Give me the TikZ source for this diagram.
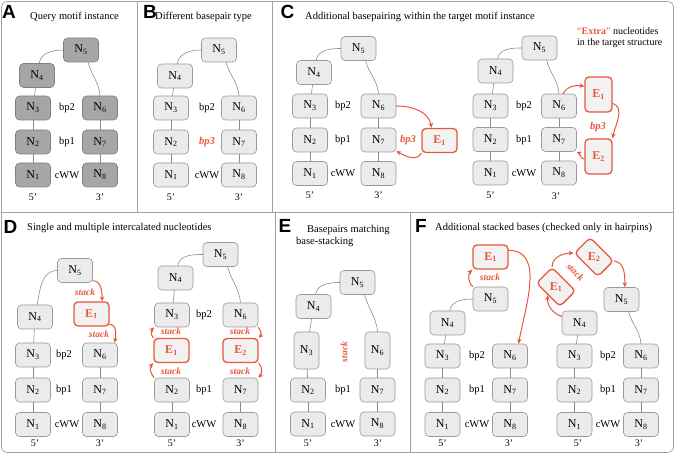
\documentclass[tikz,border=0pt]{standalone}
\usepackage{fontspec}
\setmainfont{Liberation Serif}
\newfontfamily\panelfont{Liberation Sans}
\usetikzlibrary{arrows.meta}

\definecolor{extrared}{RGB}{232,86,60}
\definecolor{framegray}{RGB}{160,160,160}

\tikzset{
  nt/.style={draw=black!40, fill=black!8, rounded corners=4pt, line width=0.6pt,
    minimum width=35pt, minimum height=24pt, inner sep=1pt,
    font=\fontsize{12}{12}\selectfont},
  ntq/.style={nt, draw=black!50, fill=black!35},
  nttall/.style={nt, minimum width=25pt, minimum height=37pt},
  ntx/.style={nt, draw=extrared, line width=1.3pt, fill=black!5, text=extrared,
    font=\fontsize{12}{12}\selectfont\bfseries},
  ntxtall/.style={ntx, minimum width=27pt, minimum height=35pt},
  ntxtilt/.style={ntx, rotate=-45, minimum width=33pt, minimum height=22pt},
  xlab/.style={inner sep=0pt, text=extrared, font=\fontsize{12}{12}\selectfont\bfseries},
  bond/.style={draw=black!45, line width=0.6pt},
  jump/.style={draw=extrared, line width=1pt, -{Stealth[length=5pt,width=4.5pt]}},
  pair/.style={inner sep=0pt, font=\fontsize{10.5}{10.5}\selectfont},
  newpair/.style={inner sep=0pt, text=extrared, font=\fontsize{10.5}{10.5}\selectfont\itshape\bfseries},
  stk/.style={inner sep=0pt, text=extrared, font=\fontsize{9.5}{9.5}\selectfont\itshape\bfseries},
  strand/.style={inner sep=0pt, font=\fontsize{10}{10}\selectfont},
  letter/.style={inner sep=0pt, font=\panelfont\fontsize{19}{19}\selectfont\bfseries},
  title/.style={inner sep=0pt, anchor=west, font=\fontsize{10.5}{12}\selectfont},
}

\begin{document}
\begin{tikzpicture}[x=1pt, y=1pt, line join=round, line cap=round]
\useasboundingbox (0,0) rectangle (675,-454);
% frame and panel rules
\draw[framegray, line width=0.7pt, rounded corners=6pt] (1.5,-1.5) rectangle (673.5,-452.5);
\draw[framegray, line width=0.7pt] (137,-1.5) -- (137,-212) (272,-1.5) -- (272,-212)
  (1.5,-212) -- (673.5,-212) (275,-212) -- (275,-452.5) (410,-212) -- (410,-452.5);

% panel letters and titles
\foreach \p/\x/\y in {A/9/11.5, B/150/12, C/287.5/11.5, D/10.5/226.5, E/285/225.5, F/421/225.5}
  \node[letter] (lab\p) at (\x,-\y) {\p};
\node[title] (titA) at (30,-17) {Query motif instance};
\node[title] (titB) at (155,-17) {Different basepair type};
\node[title] (titC) at (305,-17) {Additional basepairing within the target motif instance};
\node[title] (titD) at (27,-228) {Single and multiple intercalated nucleotides};
\node[title] (titE) at (307,-230) {Basepairs matching};
\node[title] (titEb) at (296,-242) {base-stacking};
\node[title] (titF) at (435,-228) {Additional stacked bases (checked only in hairpins)};

% A: query motif instance
\foreach \n/\x/\y in {1/33/175, 2/33/142, 3/33/108, 4/37/75.5, 5/81/50, 6/100/108, 7/100/142, 8/100/175}
  \node[ntq] (a\n) at (\x,-\y) {N\textsubscript{\n}};
\foreach \u/\v in {1/2, 2/3, 3/4, 6/7, 7/8}
  \draw[bond] (a\u) -- (a\v);
\draw[bond] (a4.80) to[out=80,in=180] (a5.west);
\draw[bond] (a5.-60) to[out=-75,in=95] (a6.north);
\foreach \bp/\y in {bp2/108, bp1/142, cWW/175}
  \node[pair] (a\bp) at (67,-\y) {\bp};
\node[strand] (a5end) at (33,-197) {5'};
\node[strand] (a3end) at (100,-197) {3'};

% B: different basepair type
\foreach \n/\x/\y in {1/171/175, 2/171/142, 3/171/108, 4/175/76, 5/219/50, 6/239/108, 7/239/142, 8/239/175}
  \node[nt] (b\n) at (\x,-\y) {N\textsubscript{\n}};
\foreach \u/\v in {1/2, 2/3, 3/4, 6/7, 7/8}
  \draw[bond] (b\u) -- (b\v);
\draw[bond] (b4.80) to[out=80,in=180] (b5.west);
\draw[bond] (b5.-60) to[out=-75,in=95] (b6.north);
\node[pair] (bbp2) at (207,-108) {bp2};
\node[newpair] (bbp3) at (207,-142) {bp3};
\node[pair] (bcWW) at (207,-175) {cWW};
\node[strand] (b5end) at (171,-197) {5'};
\node[strand] (b3end) at (239,-197) {3'};

% C left: one extra nucleotide
\foreach \n/\x/\y in {1/310/173.5, 2/310/140, 3/310/106, 4/314/72.5, 5/358.5/48.5, 6/378.5/106, 7/378.5/140, 8/378.5/173.5}
  \node[nt] (cl\n) at (\x,-\y) {N\textsubscript{\n}};
\node[ntx] (cle1) at (439.5,-140.5) {E\textsubscript{1}};
\foreach \u/\v in {1/2, 2/3, 3/4, 6/7, 7/8}
  \draw[bond] (cl\u) -- (cl\v);
\draw[bond] (cl4.80) to[out=80,in=180] (cl5.west);
\draw[bond] (cl5.-60) to[out=-75,in=95] (cl6.north);
\draw[jump] (cl6.east) to[out=0,in=100] (cle1.122);
\draw[jump] (cle1.215) to[out=-120,in=-30] (cl7.-32);
\foreach \bp/\y in {bp2/106, bp1/140, cWW/173.5}
  \node[pair] (cl\bp) at (343,-\y) {\bp};
\node[newpair] (clbp3) at (408,-140) {bp3};
\node[strand] (cl5end) at (310,-195) {5'};
\node[strand] (cl3end) at (378.5,-195) {3'};

% C right: two extra nucleotides
\foreach \n/\x/\y in {1/490.5/173, 2/490.5/139.5, 3/490.5/106, 4/495.5/71, 5/539.5/48, 6/559/106, 7/559/139.5, 8/559/173}
  \node[nt] (cr\n) at (\x,-\y) {N\textsubscript{\n}};
\node[ntxtall] (cre1) at (598.5,-94.5) {E\textsubscript{1}};
\node[ntxtall] (cre2) at (598.5,-156.5) {E\textsubscript{2}};
\foreach \u/\v in {1/2, 2/3, 3/4, 6/7, 7/8}
  \draw[bond] (cr\u) -- (cr\v);
\draw[bond] (cr4.80) to[out=80,in=180] (cr5.west);
\draw[bond] (cr5.-60) to[out=-75,in=95] (cr6.north);
\draw[jump] (cr6.72) to[out=60,in=170] (cre1.150);
\draw[jump] (cre1.-32) to[out=-20,in=80] (cre2.52);
\draw[jump] (cre2.190) to[out=185,in=-25] (cr7.-35);
\foreach \bp/\y in {bp2/106, bp1/139.5, cWW/173}
  \node[pair] (cr\bp) at (524,-\y) {\bp};
\node[newpair] (crbp3) at (598,-127) {bp3};
\node[strand] (cr5end) at (490.5,-195) {5'};
\node[strand] (cr3end) at (556,-196) {3'};
\node[title, align=left, font=\fontsize{10}{11}\selectfont] (extranote) at (577,-37.5)
  {{\color{extrared}“\textbf{Extra}”} nucleotides\\in the target structure};

% D left: single intercalated nucleotide
\foreach \n/\x/\y in {1/33/424.5, 2/33/390, 3/33/355, 4/35/317, 5/75/270.5, 6/100/355, 7/100/390, 8/100/424.5}
  \node[nt] (dl\n) at (\x,-\y) {N\textsubscript{\n}};
\node[ntx] (dle1) at (91.5,-314) {E\textsubscript{1}};
\foreach \u/\v in {1/2, 2/3, 3/4, 6/7, 7/8}
  \draw[bond] (dl\u) -- (dl\v);
\draw[bond] (dl4.80) to[out=80,in=180] (dl5.west);
\draw[jump] (dl5.-30) to[out=0,in=90] (dle1.50);
\draw[jump] (dle1.-30) to[out=0,in=80] (dl6.40);
\node[stk] (dlst1) at (85,-292) {stack};
\node[stk] (dlst2) at (99,-334) {stack};
\node[pair] (dlbp2) at (64,-355) {bp2};
\node[pair] (dlbp1) at (64,-390) {bp1};
\node[pair] (dlcWW) at (67,-424.5) {cWW};
\node[strand] (dl5end) at (35,-443) {5'};
\node[strand] (dl3end) at (100,-443) {3'};

% D right: intercalated on both strands
\foreach \n/\x/\y in {1/172/424.5, 2/172/390, 3/172/315, 4/175.5/278, 5/220.5/254.5, 6/240.5/315, 7/240.5/390, 8/240.5/424.5}
  \node[nt] (dr\n) at (\x,-\y) {N\textsubscript{\n}};
\node[ntx] (dre1) at (171.5,-350.5) {E\textsubscript{1}};
\node[ntx] (dre2) at (240.5,-350.5) {E\textsubscript{2}};
\foreach \u/\v in {1/2, 3/4, 7/8}
  \draw[bond] (dr\u) -- (dr\v);
\draw[bond] (dr4.80) to[out=80,in=180] (dr5.west);
\draw[bond] (dr5.-60) to[out=-75,in=95] (dr6.north);
\draw[jump] (dr2.north west) to[out=135,in=-135] (dre1.south west);
\draw[jump] (dre1.north west) to[out=135,in=-135] (dr3.south west);
\draw[jump] (dr6.south east) to[out=-45,in=45] (dre2.north east);
\draw[jump] (dre2.south east) to[out=-45,in=45] (dr7.north east);
\foreach \s/\x/\y in {1/171/331, 2/171/371, 3/240/331, 4/240/371}
  \node[stk] (drst\s) at (\x,-\y) {stack};
\foreach \bp/\y in {bp2/315, bp1/390, cWW/424.5}
  \node[pair] (dr\bp) at (204,-\y) {\bp};
\node[strand] (dr5end) at (172,-443) {5'};
\node[strand] (dr3end) at (240.5,-443) {3'};

% E: basepairs matching stacking
\foreach \n/\x/\y in {1/308/424, 2/308/390, 4/313.5/306.5, 5/357.5/282.5, 7/377.5/390, 8/377.5/424}
  \node[nt] (e\n) at (\x,-\y) {N\textsubscript{\n}};
\node[nttall] (e3) at (306.5,-350.5) {N\textsubscript{3}};
\node[nttall] (e6) at (377.5,-350.5) {N\textsubscript{6}};
\foreach \u/\v in {1/2, 2/3, 3/4, 6/7, 7/8}
  \draw[bond] (e\u) -- (e\v);
\draw[bond] (e4.80) to[out=80,in=180] (e5.west);
\draw[bond] (e5.-60) to[out=-75,in=95] (e6.north);
\node[stk, rotate=90] (estack) at (344,-352) {stack};
\node[pair] (ebp1) at (343,-390) {bp1};
\node[pair] (ecWW) at (343,-424) {cWW};
\node[strand] (e5end) at (308,-443) {5'};
\node[strand] (e3end) at (378,-443) {3'};

% F left: one stacked base on the loop
\foreach \n/\x/\y in {1/442.5/424.5, 2/442.5/390, 3/442.5/356, 4/447.5/323, 5/490.5/299, 6/510/356, 7/510/390, 8/510/424.5}
  \node[nt] (fl\n) at (\x,-\y) {N\textsubscript{\n}};
\node[ntx] (fle1) at (490.5,-257) {E\textsubscript{1}};
\foreach \u/\v in {1/2, 2/3, 3/4, 6/7, 7/8}
  \draw[bond] (fl\u) -- (fl\v);
\draw[bond] (fl4.80) to[out=80,in=180] (fl5.west);
\draw[jump] (fl5.north west) to[out=135,in=-135] (fle1.south west);
\draw[jump] (fle1.20) to[out=0,in=80] (fl6.55);
\node[stk] (flst) at (490,-277) {stack};
\foreach \bp/\y in {bp2/356, bp1/390, cWW/424.5}
  \node[pair] (fl\bp) at (477,-\y) {\bp};
\node[strand] (fl5end) at (442.5,-443) {5'};
\node[strand] (fl3end) at (509,-443) {3'};

% F right: two stacked bases on the loop
\foreach \n/\x/\y in {1/574.5/424.5, 2/574.5/390, 3/574.5/356, 4/579.5/323, 5/621.5/299.5, 6/641/356, 7/641/390, 8/641/424.5}
  \node[nt] (fr\n) at (\x,-\y) {N\textsubscript{\n}};
\node[ntxtilt] (fre1) at (556,-287) {};
\node[ntxtilt] (fre2) at (594,-257) {};
\node[xlab] (fre1t) at (fre1) {E\textsubscript{1}};
\node[xlab] (fre2t) at (fre2) {E\textsubscript{2}};
\foreach \u/\v in {1/2, 2/3, 3/4, 6/7, 7/8}
  \draw[bond] (fr\u) -- (fr\v);
\draw[bond] (fr5.-60) to[out=-75,in=95] (fr6.north);
\draw[jump] (fr4.160) to[out=160,in=-95] (fre1.south);
\draw[jump] (fre1.north west) to[out=90,in=180] (fre2.south west);
\draw[jump] (fre2.north east) to[out=-10,in=90] (fr5.75);
\node[stk, rotate=-45] (frst) at (575.5,-272) {stack};
\foreach \bp/\y in {bp2/356, bp1/390, cWW/424.5}
  \node[pair] (fr\bp) at (608,-\y) {\bp};
\node[strand] (fr5end) at (578,-443) {5'};
\node[strand] (fr3end) at (639,-443) {3'};
\end{tikzpicture}
\end{document}
